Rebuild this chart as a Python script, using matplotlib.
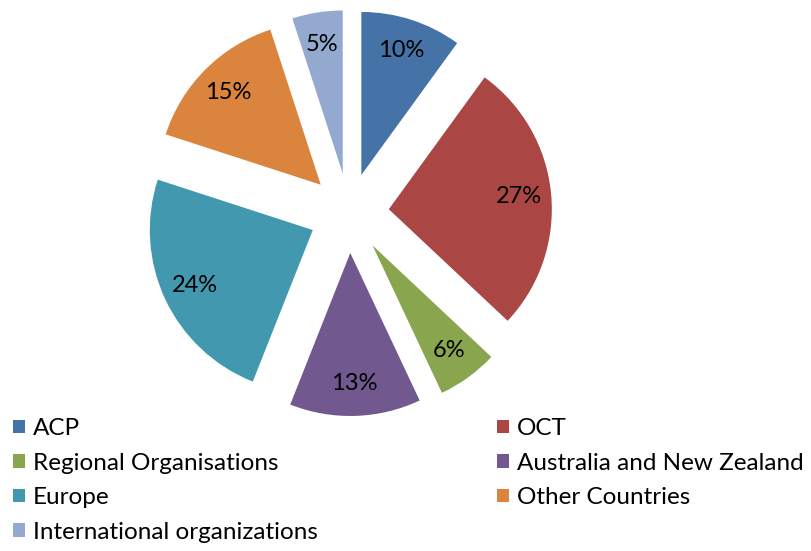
import matplotlib.pyplot as plt

plt.rcParams["font.family"] = ["Lato", "DejaVu Sans"]

regions = [
    "ACP",
    "OCT",
    "Regional Organisations",
    "Australia and New Zealand",
    "Europe",
    "Other Countries",
    "International organizations",
]
shares = [10, 27, 6, 13, 24, 15, 5]
colors = ["#4572A7", "#AA4643", "#89A54E", "#71588F", "#4198AF", "#DB843D", "#93A9CF"]

W, H = 811, 551
fig = plt.figure(figsize=(W / 100, H / 100), dpi=100)
ax = fig.add_axes([0, 0, 1, 1])

# pie laid out in pixel units so explode offsets are absolute
radius = 163
wedges, texts, autotexts = ax.pie(
    shares,
    colors=colors,
    startangle=90,
    counterclock=False,
    radius=radius,
    center=(349, H - 213),
    explode=[40] * len(shares),
    autopct="%d%%",
    pctdistance=0.8,
    textprops={"fontsize": 17, "color": "black"},
    frame=True,
)
ax.set_xlim(0, W)
ax.set_ylim(0, H)
ax.set_aspect("equal")
ax.axis("off")

order = [0, 2, 4, 6, 1, 3, 5]
leg = ax.legend(
    [wedges[i] for i in order],
    [regions[i] for i in order],
    ncol=2,
    loc="upper left",
    bbox_to_anchor=(13 / W, 1 - 418 / H),
    frameon=False,
    fontsize=17.5,
    handlelength=0.49,
    handleheight=0.49,
    handletextpad=0.33,
    labelspacing=0.56,
    columnspacing=7.38,
    borderpad=0,
    borderaxespad=0,
)

fig.savefig("out.png", dpi=100)
